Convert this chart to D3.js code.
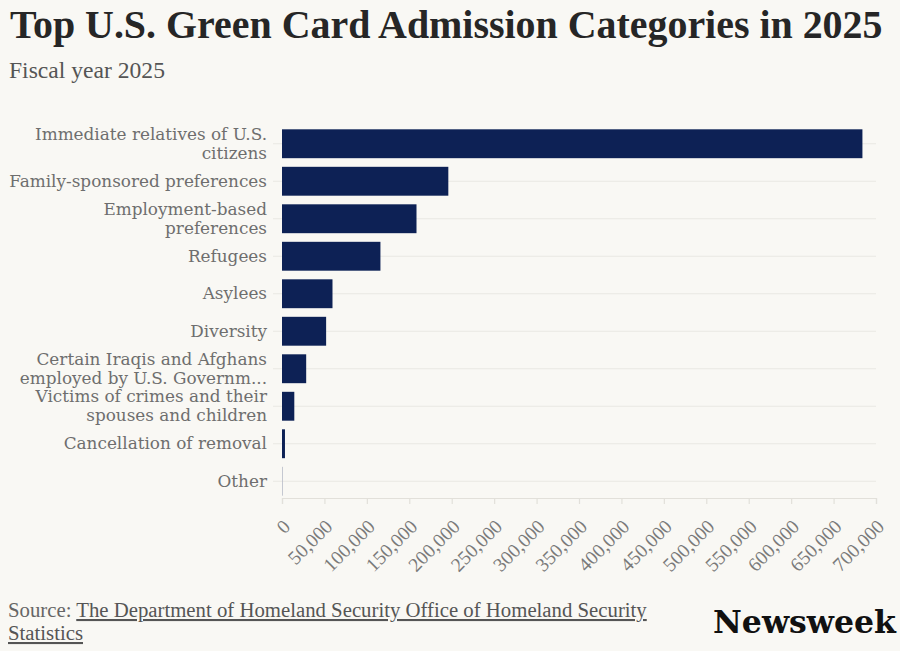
<!DOCTYPE html>
<html>
<head>
<meta charset="utf-8">
<script src="https://cdn.jsdelivr.net/npm/d3@7"></script>
<style>
  html, body { margin: 0; padding: 0; background: #f9f8f4; }
  svg { display: block; }
</style>
</head>
<body>
<svg id="chart" width="900" height="651"></svg>
<script>
const categories = [
  ["Immediate relatives of U.S.", "citizens"],
  ["Family-sponsored preferences"],
  ["Employment-based", "preferences"],
  ["Refugees"],
  ["Asylees"],
  ["Diversity"],
  ["Certain Iraqis and Afghans", "employed by U.S. Governm..."],
  ["Victims of crimes and their", "spouses and children"],
  ["Cancellation of removal"],
  ["Other"]
];
const admissions = [684000, 196000, 158500, 116000, 59500, 52000, 28500, 14500, 3500, 700];
const xTicks = [0, 50000, 100000, 150000, 200000, 250000, 300000, 350000, 400000, 450000, 500000, 550000, 600000, 650000, 700000];
const titleText = "Top U.S. Green Card Admission Categories in 2025";
const subtitleText = "Fiscal year 2025";
const sourceLabel = "Source: ";
const sourceLink1 = "The Department of Homeland Security Office of Homeland Security";
const sourceLink2 = "Statistics";

const svg = d3.select("#chart");
const serif = "'Liberation Serif', 'DejaVu Serif', serif";
const wideSerif = "'DejaVu Serif', serif";

function fit(sel, target) {
  const w = sel.node().getComputedTextLength();
  const fs = parseFloat(sel.attr("font-size"));
  sel.attr("font-size", fs * target / w);
}

svg.append("rect").attr("width", 900).attr("height", 651).attr("fill", "#f9f8f4");

// Title & subtitle
const title = svg.append("text").attr("x", 10).attr("y", 38)
  .attr("font-family", serif).attr("font-weight", "bold").attr("font-size", 36)
  .attr("fill", "#262626").text(titleText);
fit(title, 873);

const sub = svg.append("text").attr("x", 9).attr("y", 78)
  .attr("font-family", serif).attr("font-size", 20)
  .attr("fill", "#555").text(subtitleText);
fit(sub, 156);

const ids = categories.map((c, i) => i);
const x = d3.scaleLinear().domain([0, 700000]).range([282, 876]);
const y = d3.scaleBand().domain(ids).range([125, 500]).paddingInner(0.23).paddingOuter(0.115);
const axisY = 498;

// horizontal gridlines at band centres
svg.append("g").selectAll("line").data(ids).join("line")
  .attr("x1", 273).attr("x2", x(700000))
  .attr("y1", d => y(d) + y.bandwidth() / 2).attr("y2", d => y(d) + y.bandwidth() / 2)
  .attr("stroke", "#e9e8e3").attr("stroke-width", 1.2);

// bars
svg.append("g").selectAll("rect").data(ids).join("rect")
  .attr("x", x(0)).attr("y", d => y(d))
  .attr("width", d => Math.max(0.8, x(admissions[d]) - x(0)))
  .attr("height", y.bandwidth())
  .attr("fill", d => admissions[d] < 2000 ? "#b8bcc8" : "#0d2155");

// x axis
const xAxis = d3.axisBottom(x).tickValues(xTicks).tickSize(6).tickFormat(d3.format(","));
const gx = svg.append("g").attr("transform", `translate(0,${axisY})`).call(xAxis);
gx.select(".domain").attr("stroke", "#e2e0da").attr("stroke-width", 1.2);
gx.selectAll(".tick line").attr("stroke", "#e2e0da").attr("stroke-width", 1.2);
gx.selectAll(".tick text")
  .attr("font-family", serif).attr("font-size", 19.5).attr("fill", "#7a7a7a")
  .attr("text-anchor", "end")
  .attr("transform", "translate(4,25) rotate(-45)")
  .attr("x", 0).attr("y", 0).attr("dy", "0.35em");

// category labels
const lab = svg.append("g").attr("font-family", wideSerif).attr("fill", "#6e6e6e").attr("text-anchor", "end");
const probe = lab.append("text").attr("font-size", 16).text("Family-sponsored preferences");
fit(probe, 258);
const labelFs = parseFloat(probe.attr("font-size"));
probe.remove();
const lineGap = y.step() / 2;
categories.forEach((lines, i) => {
  const cy = y(i) + y.bandwidth() / 2;
  const n = lines.length;
  lines.forEach((ln, j) => {
    lab.append("text").attr("font-size", labelFs).attr("x", 267)
      .attr("y", cy + (j - (n - 1) / 2) * lineGap + 5.5)
      .text(ln);
  });
});

// source
const src = svg.append("text").attr("x", 8).attr("y", 617)
  .attr("font-family", serif).attr("font-size", 18).attr("fill", "#666");
src.append("tspan").text(sourceLabel);
src.append("tspan").attr("text-decoration", "underline").attr("fill", "#555").text(sourceLink1);
fit(src, 639);
const srcFs = parseFloat(src.attr("font-size"));
svg.append("text").attr("x", 8).attr("y", 640)
  .attr("font-family", serif).attr("font-size", srcFs).attr("fill", "#555")
  .attr("text-decoration", "underline").text(sourceLink2);

// logo
const logo = svg.append("text").attr("x", 713).attr("y", 633)
  .attr("font-family", "'DejaVu Serif', serif").attr("font-weight", "bold")
  .attr("font-size", 32).attr("fill", "#111").text("Newsweek");
fit(logo, 183);
</script>
</body>
</html>
